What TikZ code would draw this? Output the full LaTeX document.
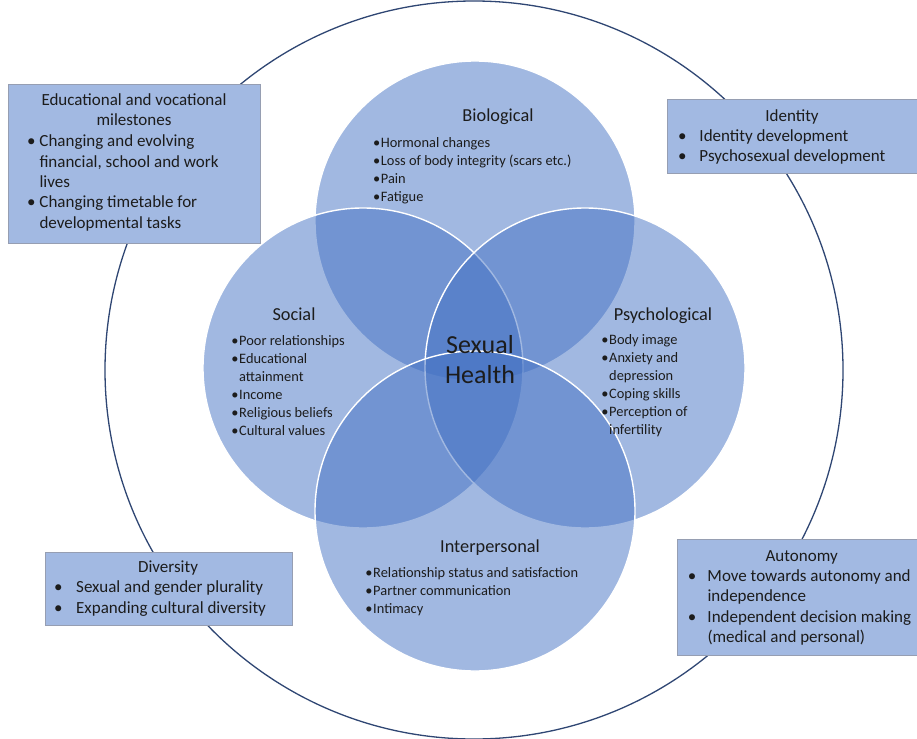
\documentclass[tikz,border=0pt]{standalone}
\usepackage{fontspec}
\setmainfont{Carlito}
\definecolor{venn}{RGB}{68,114,196}
\definecolor{boxfill}{RGB}{162,185,226}
\definecolor{boxline}{RGB}{150,158,178}
\definecolor{ringc}{RGB}{47,70,115}
\definecolor{txt}{RGB}{28,28,28}
\newcommand{\vb}{\makebox[7.8pt][l]{•}}
\newcommand{\vi}{\hspace*{7.8pt}}
\newcommand{\bb}[1]{\makebox[#1][l]{•}}
\newcommand{\bi}[1]{\hspace*{#1}}
\begin{document}
\begin{tikzpicture}[x=1pt,y=-1pt,
  ring/.style={circle, draw=ringc, line width=1.3pt, minimum size=738pt, inner sep=0pt},
  vcirc/.style={circle, fill=venn, fill opacity=0.5, draw=white, line width=1.4pt, minimum size=320pt, inner sep=0pt},
  infobox/.style={rectangle, fill=boxfill, draw=boxline, line width=0.8pt, anchor=north west, inner sep=0pt},
  vhead/.style={font=\fontsize{18.3}{22}\selectfont, text=txt, anchor=base, inner sep=0pt},
  vlist/.style={font=\fontsize{14.4}{18}\selectfont, text=txt, anchor=base west, align=left, inner sep=0pt},
  bhead/.style={font=\fontsize{17}{20.4}\selectfont, text=txt, anchor=base, align=center, inner sep=0pt},
  blist/.style={font=\fontsize{17}{20.4}\selectfont, text=txt, anchor=base west, align=left, inner sep=0pt},
  core/.style={font=\fontsize{26}{30}\selectfont, text=txt, anchor=base, align=center, inner sep=0pt}]
\useasboundingbox (0,0) rectangle (917,738);
\fill[white] (0,0) rectangle (917,738);

% outer ring
\node[ring] (outer) at (474,370) {};

% info boxes
\node[infobox, minimum width=252pt, minimum height=159pt] (eduBox) at (8,84) {};
\node[infobox, minimum width=249.5pt, minimum height=74pt] (idBox) at (667,99) {};
\node[infobox, minimum width=247pt, minimum height=73pt] (divBox) at (45,552) {};
\node[infobox, minimum width=260pt, minimum height=116pt] (autBox) at (677,539) {};

% venn circles
\node[vcirc] (bio) at (475,221) {};
\node[vcirc] (soc) at (363,368) {};
\node[vcirc] (psy) at (585,368) {};
\node[vcirc] (inter) at (475,511) {};

% venn headers
\node[vhead] (bioH) at (498,122) {Biological};
\node[vhead] (socH) at (294,320) {Social};
\node[vhead] (psyH) at (663,320.7) {Psychological};
\node[vhead] (interH) at (490,552.7) {Interpersonal};

% venn lists (anchored at the baseline of the last line)
\node[vlist] (bioL) at (372.9,201) {\vb Hormonal changes\\\vb Loss of body integrity (scars etc.)\\\vb Pain\\\vb Fatigue};
\node[vlist] (socL) at (231.2,435) {\vb Poor relationships\\\vb Educational\\\vi attainment\\\vb Income\\\vb Religious beliefs\\\vb Cultural values};
\node[vlist] (psyL) at (601.2,434) {\vb Body image\\\vb Anxiety and\\\vi depression\\\vb Coping skills\\\vb Perception of\\\vi infertility};
\node[vlist] (interL) at (365.2,613.3) {\vb Relationship status and satisfaction\\\vb Partner communication\\\vb Intimacy};

% centre
\node[core] (sh) at (480,383.3) {Sexual\\Health};

% box texts
\node[bhead] (eduH) at (134,125.7) {Educational and vocational\\milestones};
\node[blist] (eduL) at (27,228.3) {\bb{12.3pt}Changing and evolving\\\bi{12.3pt}financial, school and work\\\bi{12.3pt}lives\\\bb{12.3pt}Changing timetable for\\\bi{12.3pt}developmental tasks};

\node[bhead] (idH) at (792,121.7) {Identity};
\node[blist] (idL) at (678,161.7) {\bb{21.3pt}Identity development\\\bb{21.3pt}Psychosexual development};

\node[bhead] (divH) at (168,572.3) {Diversity};
\node[blist] (divL) at (54,613.3) {\bb{22pt}Sexual and gender plurality\\\bb{22pt}Expanding cultural diversity};

\node[bhead] (autH) at (801.7,561) {Autonomy};
\node[blist] (autL) at (687.7,642.5) {\bb{19.6pt}Move towards autonomy and\\\bi{19.6pt}independence\\\bb{19.6pt}Independent decision making\\\bi{19.6pt}(medical and personal)};
\end{tikzpicture}
\end{document}
